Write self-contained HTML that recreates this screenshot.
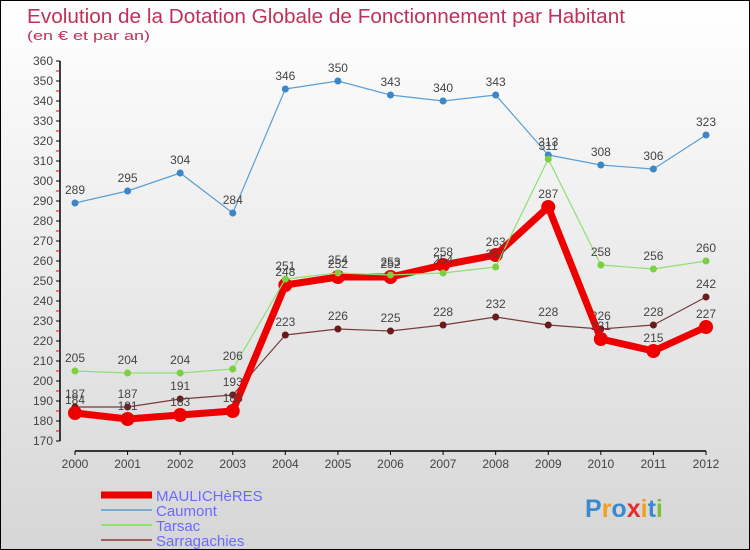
<!DOCTYPE html>
<html><head><meta charset="utf-8"><style>
body{margin:0}
#c{width:748px;height:548px;border:1px solid #000;background:linear-gradient(#fff,#d6d6d6);position:relative;overflow:hidden;font-family:"Liberation Sans",sans-serif}
svg{position:absolute;left:0;top:0}
</style></head><body>
<div id="c">
<svg id="s" width="748" height="548">
<text x="26" y="22" font-size="20" fill="#c0305a" textLength="598" lengthAdjust="spacingAndGlyphs">Evolution de la Dotation Globale de Fonctionnement par Habitant</text>
<text x="26" y="39" font-size="12.5" fill="#c0305a" textLength="123" lengthAdjust="spacingAndGlyphs">(en € et par an)</text>
</svg>
</div>
<script>
const years=[2000,2001,2002,2003,2004,2005,2006,2007,2008,2009,2010,2011,2012];
const maulicheres=[184,181,183,185,248,252,252,258,263,287,221,215,227];
const caumont=[289,295,304,284,346,350,343,340,343,313,308,306,323];
const tarsac=[205,204,204,206,251,254,253,254,257,311,258,256,260];
const sarragachies=[187,187,191,193,223,226,225,228,232,228,226,228,242];
const yTicks=[170,180,190,200,210,220,230,240,250,260,270,280,290,300,310,320,330,340,350,360];
const s=document.getElementById('s');const NS='http://www.w3.org/2000/svg';
function X(i){return 74+i*(705-74)/(years.length-1);}
function Y(v){return 440-(v-170)*2;}
function el(t,a,p){const e=document.createElementNS(NS,t);for(const k in a)e.setAttribute(k,a[k]);(p||s).appendChild(e);return e;}
let ax=el('line',{x1:59,y1:Y(360),x2:59,y2:Y(170),stroke:'#000','stroke-width':1.5});


let xa=el('line',{x1:X(0),y1:450,x2:X(12),y2:450,stroke:'#000','stroke-width':1.5});


yTicks.forEach(v=>{el('line',{x1:55,y1:Y(v),x2:59,y2:Y(v),stroke:'#000'});
 if(v<360)el('line',{x1:55,y1:Y(v+5),x2:59,y2:Y(v+5),stroke:'#e00'});
 const t=el('text',{x:52,y:Y(v)+4,'font-size':12,fill:'#444','text-anchor':'end'});t.textContent=v;
 
 });
years.forEach((y,i)=>{el('line',{x1:X(i),y1:450,x2:X(i),y2:454,stroke:'#000'});
 const t=el('text',{x:X(i),y:467,'font-size':12,fill:'#444','text-anchor':'middle'});t.textContent=y;
 
 });
function series(d,col,w,r,dot,name){
 const g=el('g',{});
 
 
 el('polyline',{points:d.map((v,i)=>X(i)+','+Y(v)).join(' '),fill:'none',stroke:col,'stroke-width':w,'stroke-linejoin':'round'},g);
 d.forEach((v,i)=>{const c=el('circle',{cx:X(i),cy:Y(v),r:r,fill:dot},g);
  
  
  const t=el('text',{x:X(i),y:Y(v)-9,'font-size':12,fill:'#444','text-anchor':'middle'},g);t.textContent=v;
  
  });
}
series(caumont,'#5a9fd4',1.2,3.5,'#3a86c8','series-caumont');
series(sarragachies,'#7a3a3a',1.2,3.5,'#6a1a1a','series-sarragachies');
series(maulicheres,'#ee0000',7,7,'#ee0000','series-maulicheres');
series(tarsac,'#90e070',1.2,3.5,'#7ad040','series-tarsac');
const leg=[['MAULICHèRES','#ee0000',7],['Caumont','#7aaad0',2],['Tarsac','#90e070',2],['Sarragachies','#a06060',2]];
leg.forEach((l,i)=>{const y=494+i*15;
 const g=el('g',{});
 
 
 el('line',{x1:100,y1:y,x2:151,y2:y,stroke:l[1],'stroke-width':l[2]},g);
 const t=el('text',{x:155,y:y+6,'font-size':15,fill:'#6a6aff'},g);t.textContent=l[0];});
const lg=el('text',{x:584,y:516,'font-size':25,'font-weight':'bold'});


[['P','#3a8ad0'],['r','#f0a020'],['o','#3a8ad0'],['x','#e03030'],['i','#f0a020'],['t','#3a8ad0'],['i','#7ac040']].forEach(p=>{const ts=el('tspan',{fill:p[1]},lg);ts.textContent=p[0];});
</script>
</body></html>
